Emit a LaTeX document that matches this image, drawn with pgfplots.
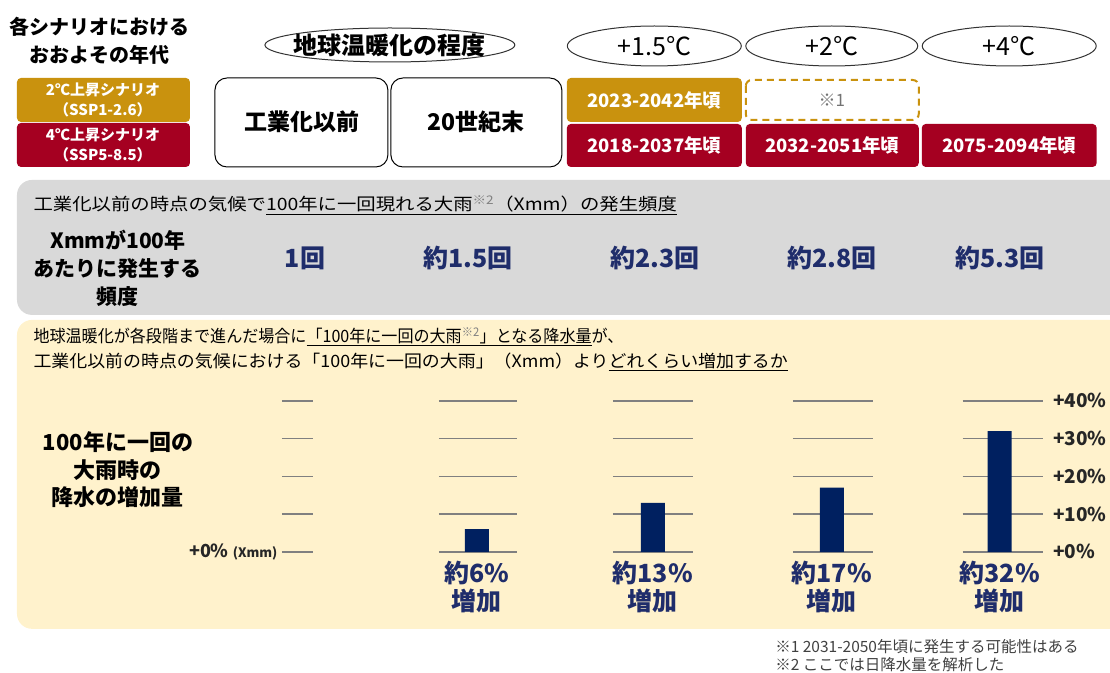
\documentclass[border=0pt]{standalone}
\usepackage{pgfplots}
\pgfplotsset{compat=1.18}
\usepackage{fontspec}
\setmainfont{Noto Sans CJK JP}
\definecolor{gold}{HTML}{C9920E}
\definecolor{dred}{HTML}{A50021}
\definecolor{navy}{HTML}{002060}
\definecolor{tnavy}{HTML}{1F2D6B}
\definecolor{beige}{HTML}{FFF2CC}
\definecolor{lgray}{HTML}{D9D9D9}
\definecolor{gline}{HTML}{808080}
\newcommand\fs[2]{\fontsize{#1}{#2}\selectfont}
\begin{document}
\begin{tikzpicture}
\begin{scope}[x=1pt,y=-1pt]
\path[use as bounding box] (0,0) rectangle (1110,673);
% header
\node[font=\fs{20}{28}\bfseries, align=center] at (100,41) {各シナリオにおける\\おおよその年代};
\fill[gold, rounded corners=4] (17,78) rectangle (190,122);
\fill[dred, rounded corners=4] (17,123) rectangle (190,167);
\node[font=\fs{15}{20}\bfseries, align=center, text=white] at (103,100) {2℃上昇シナリオ\\（SSP1-2.6）};
\node[font=\fs{15}{20}\bfseries, align=center, text=white] at (103,145) {4℃上昇シナリオ\\（SSP5-8.5）};
\draw[line width=1pt, black!80] (390,45) ellipse [x radius=125, y radius=17];
\node[font=\fs{24}{28}\bfseries] at (390,45) {地球温暖化の程度};
\draw[line width=1pt, black!80] (654.5,46) ellipse [x radius=87, y radius=20];
\draw[line width=1pt, black!80] (832,46) ellipse [x radius=86, y radius=20];
\draw[line width=1pt, black!80] (1009.5,46) ellipse [x radius=87, y radius=20];
\node[font=\fs{25}{28}] at (654.5,46) {+1.5℃};
\node[font=\fs{25}{28}] at (832,46) {+2℃};
\node[font=\fs{25}{28}] at (1009.5,46) {+4℃};
\draw[line width=1pt, rounded corners=12, fill=white] (215,78) rectangle (388,167);
\draw[line width=1pt, rounded corners=12, fill=white] (391,78) rectangle (562,167);
\node[font=\fs{23}{28}\bfseries] at (302,122) {工業化以前};
\node[font=\fs{23}{28}\bfseries] at (476,122) {20世紀末};
\fill[gold, rounded corners=4] (567,78) rectangle (742,122);
\draw[gold, line width=2pt, dashed, dash pattern=on 7pt off 5pt, rounded corners=6] (746,80) rectangle (919,120);
\node[font=\fs{17}{20}, text=black!55] at (832,100) {※1};
\node[font=\fs{18.5}{20}\bfseries, text=white] at (654.5,100) {2023-2042年頃};
\fill[dred, rounded corners=4] (567,124) rectangle (742,167);
\fill[dred, rounded corners=4] (746,124) rectangle (919,167);
\fill[dred, rounded corners=4] (922,124) rectangle (1097,167);
\node[font=\fs{18.5}{20}\bfseries, text=white] at (654.5,145.5) {2018-2037年頃};
\node[font=\fs{18.5}{20}\bfseries, text=white] at (832.5,145.5) {2032-2051年頃};
\node[font=\fs{18.5}{20}\bfseries, text=white] at (1009.5,145.5) {2075-2094年頃};
% gray panel
\fill[lgray, rounded corners=15] (17,180) rectangle (1130,315);
\node[anchor=west, font=\fs{17}{20}] at (30,205) {\scalebox{1.14}[1]{工業化以前の時点の気候で\underline{100年に一回現れる大雨\textsuperscript{\textcolor{black!50}{※2}}（Xmm）の発生頻度}}};
\node[font=\fs{21}{28}\bfseries, align=center] at (118,268) {Xmmが100年\\あたりに発生する\\頻度};
\node[font=\fs{25}{28}\bfseries, text=tnavy] at (305,258) {1回};
\node[font=\fs{25}{28}\bfseries, text=tnavy] at (468,258) {約1.5回};
\node[font=\fs{25}{28}\bfseries, text=tnavy] at (655,258) {約2.3回};
\node[font=\fs{25}{28}\bfseries, text=tnavy] at (832,258) {約2.8回};
\node[font=\fs{25}{28}\bfseries, text=tnavy] at (1000,258) {約5.3回};
% beige panel
\fill[beige, rounded corners=15] (17,320) rectangle (1130,629);
\node[anchor=west, font=\fs{17}{20}] at (30,337) {\scalebox{0.945}[1]{地球温暖化が各段階まで進んだ場合に\underline{「100年に一回の大雨\textsuperscript{\textcolor{black!50}{※2}}」となる降水量}が、}};
\node[anchor=west, font=\fs{17}{20}] at (30,362) {\scalebox{1.055}[1]{工業化以前の時点の気候における「100年に一回の大雨」（Xmm）より\underline{どれくらい増加するか}}};
\node[font=\fs{22}{27.5}\bfseries, align=center] at (118,470) {100年に一回の\\大雨時の\\降水の増加量};
% footnotes
\node[anchor=west, font=\fs{15.5}{18}, text=black!75] at (772,647) {※1 2031-2050年頃に発生する可能性はある};
\node[anchor=west, font=\fs{15.5}{18}, text=black!75] at (772,665) {※2 ここでは日降水量を解析した};
\end{scope}
\begin{axis}[
  at={(240pt,-552pt)}, anchor=south west,
  scale only axis, width=808pt, height=151pt,
  xmin=240, xmax=1048, ymin=0, ymax=40,
  clip=false,
  axis line style={draw=none}, tick style={draw=none},
  xtick=\empty,
  ytick={0,10,20,30,40},
  yticklabels={+0\%,+10\%,+20\%,+30\%,+40\%},
  yticklabel pos=right,
  y tick label style={font=\fs{19}{20}\bfseries, text=black!85, anchor=west, xshift=2pt},
  /pgf/number format/assume math mode=true,
]
\pgfplotsinvokeforeach{0,10,20,30,40}{
  \draw[gline, line width=1.5pt] (axis cs:282,#1) -- (axis cs:313,#1);
  \draw[gline, line width=1.5pt] (axis cs:439,#1) -- (axis cs:517,#1);
  \draw[gline, line width=1.5pt] (axis cs:613,#1) -- (axis cs:693,#1);
  \draw[gline, line width=1.5pt] (axis cs:793,#1) -- (axis cs:873,#1);
  \draw[gline, line width=1.5pt] (axis cs:963,#1) -- (axis cs:1043,#1);
}
\addplot[ybar, bar width=24, fill=navy, draw=none] coordinates {(477,6) (653,13) (832,17) (1000,32)};
\node[anchor=east, font=\fs{18}{20}\bfseries, text=black!85] at (axis cs:281,0) {+0\% {\fs{13}{14}(Xmm)}};
\node[anchor=north, font=\fs{25}{28}\bfseries, text=tnavy, align=center] at (axis cs:477,0) [yshift=-6pt] {約6\%\\増加};
\node[anchor=north, font=\fs{25}{28}\bfseries, text=tnavy, align=center] at (axis cs:653,0) [yshift=-6pt] {約13\%\\増加};
\node[anchor=north, font=\fs{25}{28}\bfseries, text=tnavy, align=center] at (axis cs:832,0) [yshift=-6pt] {約17\%\\増加};
\node[anchor=north, font=\fs{25}{28}\bfseries, text=tnavy, align=center] at (axis cs:1000,0) [yshift=-6pt] {約32\%\\増加};
\end{axis}
\end{tikzpicture}
\end{document}
